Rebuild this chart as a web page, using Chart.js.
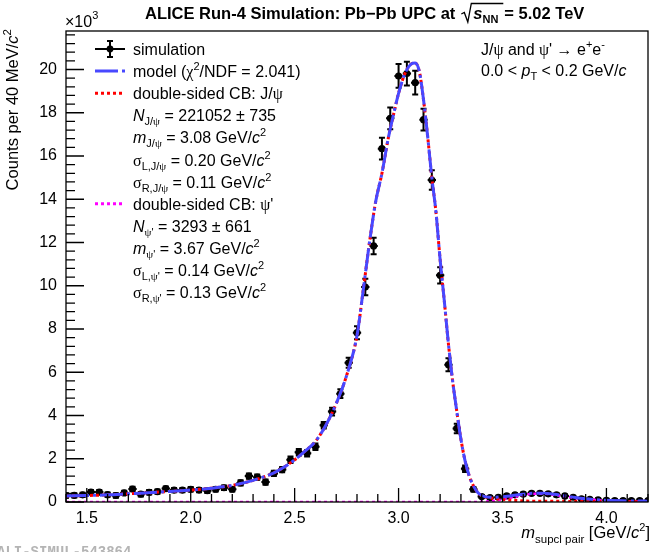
<!DOCTYPE html>
<html>
<head>
<meta charset="utf-8">
<script src="https://cdn.jsdelivr.net/npm/chart.js@4.4.1/dist/chart.umd.min.js"></script>
<style>
  html, body { margin: 0; padding: 0; background: #fff; }
  canvas { display: block; }
</style>
</head>
<body>
<canvas id="chart" width="652" height="552"></canvas>
<script>
// ---- datos: cuentas en unidades de 10^3 por bin de 40 MeV ----
const binCenters = [1.40, 1.44, 1.48, 1.52, 1.56, 1.60, 1.64, 1.68, 1.72, 1.76, 1.80, 1.84, 1.88, 1.92, 1.96,
  2.00, 2.04, 2.08, 2.12, 2.16, 2.20, 2.24, 2.28, 2.32, 2.36, 2.40, 2.44, 2.48, 2.52, 2.56, 2.60, 2.64,
  2.68, 2.72, 2.76, 2.80, 2.84, 2.88, 2.92, 2.96, 3.00, 3.04, 3.08, 3.12, 3.16, 3.20, 3.24, 3.28, 3.32,
  3.36, 3.40, 3.44, 3.48, 3.52, 3.56, 3.60, 3.64, 3.68, 3.72, 3.76, 3.80, 3.84, 3.88, 3.92, 3.96, 4.00,
  4.04, 4.08, 4.12, 4.16, 4.20];
const counts = [0.30, 0.31, 0.33, 0.46, 0.46, 0.34, 0.30, 0.42, 0.60, 0.36, 0.45, 0.48, 0.62, 0.55, 0.55,
  0.59, 0.55, 0.52, 0.59, 0.66, 0.59, 0.88, 1.20, 1.15, 0.92, 1.32, 1.50, 1.95, 2.30, 2.25, 2.56, 3.55,
  4.18, 5.01, 6.44, 7.83, 9.94, 11.84, 16.34, 17.74, 19.70, 19.81, 19.39, 17.68, 14.89, 10.48, 6.35, 3.40, 1.54,
  0.59, 0.25, 0.20, 0.22, 0.28, 0.33, 0.37, 0.40, 0.40, 0.38, 0.33, 0.28, 0.22, 0.15, 0.12, 0.10, 0.08,
  0.07, 0.07, 0.06, 0.06, 0.06];
const countErrors = [0.10, 0.10, 0.10, 0.10, 0.10, 0.10, 0.10, 0.10, 0.10, 0.10, 0.10, 0.10, 0.10, 0.10, 0.10,
  0.10, 0.10, 0.10, 0.10, 0.10, 0.10, 0.12, 0.12, 0.12, 0.12, 0.12, 0.12, 0.15, 0.15, 0.15, 0.15, 0.15,
  0.18, 0.20, 0.23, 0.30, 0.38, 0.38, 0.50, 0.50, 0.55, 0.55, 0.55, 0.50, 0.45, 0.38, 0.30, 0.22, 0.15,
  0.10, 0.07, 0.07, 0.07, 0.07, 0.07, 0.07, 0.07, 0.07, 0.07, 0.07, 0.07, 0.07, 0.07, 0.07, 0.07, 0.07,
  0.07, 0.07, 0.07, 0.07, 0.07];
const binHalfWidth = 0.02;

// curvas del ajuste
const curveMass = [1.40, 1.50, 1.60, 1.70, 1.80, 1.90, 2.00, 2.10, 2.20, 2.30, 2.40, 2.45, 2.50, 2.55, 2.60,
  2.65, 2.70, 2.75, 2.80, 2.83, 2.86, 2.89, 2.92, 2.95, 2.98, 3.00, 3.03, 3.06, 3.08, 3.10, 3.12, 3.14,
  3.16, 3.18, 3.20, 3.22, 3.24, 3.26, 3.28, 3.30, 3.32, 3.34, 3.36, 3.38, 3.40, 3.44, 3.50, 3.55, 3.60,
  3.65, 3.70, 3.75, 3.80, 3.85, 3.90, 3.95, 4.00, 4.10, 4.20];
const modelCurve = [0.28, 0.30, 0.33, 0.38, 0.43, 0.49, 0.55, 0.64, 0.77, 1.00, 1.35, 1.62, 1.95, 2.35, 2.80,
  3.55, 4.55, 5.85, 7.70, 9.80, 12.0, 13.9, 15.2, 16.8, 18.1, 18.9, 19.8, 20.25, 20.3, 19.9, 18.6, 16.9,
  15.0, 13.4, 11.2, 9.3, 7.3, 5.6, 4.2, 2.9, 1.9, 1.2, 0.75, 0.45, 0.30, 0.22, 0.24, 0.30, 0.36,
  0.41, 0.41, 0.36, 0.29, 0.21, 0.15, 0.11, 0.08, 0.05, 0.04];
const jpsiCurve = [0.28, 0.30, 0.33, 0.38, 0.43, 0.49, 0.55, 0.64, 0.77, 1.00, 1.35, 1.62, 1.95, 2.35, 2.80,
  3.55, 4.55, 5.85, 7.70, 9.80, 12.0, 13.9, 15.2, 16.8, 18.1, 18.9, 19.8, 20.25, 20.3, 19.9, 18.6, 16.9,
  15.0, 13.4, 11.2, 9.3, 7.3, 5.6, 4.2, 2.9, 1.9, 1.2, 0.75, 0.45, 0.29, 0.19, 0.12, 0.08, 0.05,
  0.03, 0.03, 0.03, 0.03, 0.02, 0.02, 0.02, 0.02, 0.01, 0.01];
const psi2sCurve = [0, 0, 0, 0, 0, 0, 0, 0, 0, 0, 0, 0, 0, 0, 0,
  0, 0, 0, 0, 0, 0, 0, 0, 0, 0, 0, 0, 0, 0, 0, 0, 0,
  0, 0, 0, 0, 0, 0, 0, 0, 0, 0, 0, 0, 0.01, 0.03, 0.12, 0.22, 0.32,
  0.38, 0.38, 0.33, 0.26, 0.19, 0.13, 0.09, 0.06, 0.03, 0.02];

const xTicks = [1.5, 2.0, 2.5, 3.0, 3.5, 4.0];
const yTicks = [0, 2, 4, 6, 8, 10, 12, 14, 16, 18, 20];

const SANS = '"Liberation Sans", Arial, Helvetica, sans-serif';
const SERIF = '"Liberation Serif", "Times New Roman", serif';
const BLUE = '#4848ff';

// ---- texto con sub/superíndices ----
const sub = (t, o = {}) => Object.assign({ t, size: 11, dy: 4 }, o);
const sup = (t, o = {}) => Object.assign({ t, size: 11, dy: -7 }, o);
const gr = (t, o = {}) => Object.assign({ t, g: true }, o);
const it = (t, o = {}) => Object.assign({ t, i: true }, o);

function fontOf(p, base) {
  return (p.i ? 'italic ' : '') + (p.b ? 'bold ' : '') + (p.size || base) + 'px ' + (p.g ? SERIF : SANS);
}
function measureRich(ctx, parts, base) {
  let w = 0;
  parts.forEach(p => { ctx.font = fontOf(p, base); w += ctx.measureText(p.t).width; });
  return w;
}
function drawRich(ctx, x, y, parts, base) {
  parts.forEach(p => {
    ctx.font = fontOf(p, base);
    ctx.fillText(p.t, x, y + (p.dy || 0));
    x += ctx.measureText(p.t).width;
  });
  return x;
}

const legendRows = [
  ['simulation'],
  ['model (', gr('χ'), sup('2'), '/NDF = 2.041)'],
  ['double-sided CB: J/', gr('ψ')],
  [it('N'), sub('J/'), sub('ψ', { g: true }), ' = 221052 ± 735'],
  [it('m'), sub('J/'), sub('ψ', { g: true }), ' = 3.08 GeV/', it('c'), sup('2')],
  [gr('σ'), sub('L,J/'), sub('ψ', { g: true }), ' = 0.20 GeV/', it('c'), sup('2')],
  [gr('σ'), sub('R,J/'), sub('ψ', { g: true }), ' = 0.11 GeV/', it('c'), sup('2')],
  ['double-sided CB: ', gr('ψ'), "'"],
  [it('N'), sub('ψ', { g: true }), sub("'"), ' = 3293 ± 661'],
  [it('m'), sub('ψ', { g: true }), sub("'"), ' = 3.67 GeV/', it('c'), sup('2')],
  [gr('σ'), sub('L,'), sub('ψ', { g: true }), sub("'"), ' = 0.14 GeV/', it('c'), sup('2')],
  [gr('σ'), sub('R,'), sub('ψ', { g: true }), sub("'"), ' = 0.13 GeV/', it('c'), sup('2')]
].map(r => r.map(p => typeof p === 'string' ? { t: p } : p));

// barras de error (debajo de marcadores y curvas)
const errorBars = {
  id: 'errorBars',
  beforeDatasetsDraw(chart) {
    const { ctx, chartArea: a, scales: { x, y } } = chart;
    ctx.save();
    ctx.beginPath();
    ctx.rect(a.left, a.top, a.right - a.left, a.bottom - a.top);
    ctx.clip();
    ctx.strokeStyle = '#000';
    ctx.lineWidth = 2;
    binCenters.forEach((m, i) => {
      const px = x.getPixelForValue(m);
      const py = y.getPixelForValue(counts[i]);
      const x0 = x.getPixelForValue(m - binHalfWidth);
      const x1 = x.getPixelForValue(m + binHalfWidth);
      const y0 = y.getPixelForValue(counts[i] - countErrors[i]);
      const y1 = y.getPixelForValue(counts[i] + countErrors[i]);
      ctx.beginPath();
      ctx.moveTo(x0, py); ctx.lineTo(x1, py);
      ctx.moveTo(px, y0); ctx.lineTo(px, y1);
      ctx.moveTo(px - 3, y0); ctx.lineTo(px + 3, y0);
      ctx.moveTo(px - 3, y1); ctx.lineTo(px + 3, y1);
      ctx.stroke();
    });
    ctx.restore();
  }
};

// marco, ticks hacia dentro (estilo ROOT) y textos
const decorations = {
  id: 'decorations',
  afterDraw(chart) {
    const { ctx, chartArea: a, scales: { x, y } } = chart;
    ctx.save();
    ctx.strokeStyle = '#000';
    ctx.lineWidth = 1.3;
    ctx.strokeRect(a.left, a.top, a.right - a.left, a.bottom - a.top);

    ctx.beginPath();
    for (let k = 14; k <= 42; k++) {
      const px = x.getPixelForValue(k / 10);
      const len = k % 5 === 0 ? 14 : 8;
      ctx.moveTo(px, a.bottom); ctx.lineTo(px, a.bottom - len);
    }
    for (let k = 0; k <= 54; k++) {
      const py = y.getPixelForValue(k * 0.4);
      const len = k % 5 === 0 ? 18 : 9;
      ctx.moveTo(a.left, py); ctx.lineTo(a.left + len, py);
    }
    ctx.stroke();

    ctx.fillStyle = '#000';
    ctx.textBaseline = 'alphabetic';
    ctx.textAlign = 'left';

    // título
    const titleLeft = [{ t: 'ALICE Run-4 Simulation: Pb\u2212Pb UPC at', b: true }];
    let tx = drawRich(ctx, 145, 19, titleLeft, 16.5);
    const r0 = tx + 6;
    ctx.lineWidth = 1.3;
    ctx.beginPath();
    ctx.moveTo(r0, 14); ctx.lineTo(r0 + 3, 12.5); ctx.lineTo(r0 + 6.5, 22);
    ctx.lineTo(r0 + 10, 3.5); ctx.lineTo(r0 + 42, 3.5);
    ctx.stroke();
    tx = drawRich(ctx, r0 + 12, 19, [{ t: 's', b: true, i: true }, { t: 'NN', b: true, size: 11, dy: 4 }], 16.5);
    drawRich(ctx, tx + 6, 19, [{ t: '= 5.02 TeV', b: true }], 16.5);

    // ×10^3
    drawRich(ctx, 65, 27, [{ t: '×10' }, sup('3', { size: 11, dy: -8 })], 16);

    // leyenda
    const lx0 = 95, lx1 = 125, tx0 = 133;
    legendRows.forEach((row, i) => {
      drawRich(ctx, tx0, 55 + 22.1 * i, row, 16);
    });
    const sy = i => 49 + 22.1 * i;
    // símbolo: simulación
    ctx.setLineDash([]);
    ctx.lineWidth = 2;
    ctx.beginPath();
    ctx.moveTo(lx0, sy(0)); ctx.lineTo(lx1, sy(0));
    ctx.moveTo(110, sy(0) - 8); ctx.lineTo(110, sy(0) + 8);
    ctx.moveTo(107, sy(0) - 8); ctx.lineTo(113, sy(0) - 8);
    ctx.moveTo(107, sy(0) + 8); ctx.lineTo(113, sy(0) + 8);
    ctx.stroke();
    ctx.beginPath();
    ctx.arc(110, sy(0), 3.4, 0, Math.PI * 2);
    ctx.fill();
    // símbolo: modelo
    ctx.lineWidth = 3;
    ctx.strokeStyle = BLUE;
    ctx.setLineDash([23, 4, 3, 4]);
    ctx.beginPath(); ctx.moveTo(lx0, sy(1)); ctx.lineTo(lx1, sy(1)); ctx.stroke();
    // símbolos: CB
    ctx.setLineDash([3, 3]);
    ctx.strokeStyle = '#ff0000';
    ctx.beginPath(); ctx.moveTo(lx0, sy(2)); ctx.lineTo(lx1, sy(2)); ctx.stroke();
    ctx.strokeStyle = '#ff00ff';
    ctx.beginPath(); ctx.moveTo(lx0, sy(7)); ctx.lineTo(lx1, sy(7)); ctx.stroke();
    ctx.setLineDash([]);

    // texto superior derecho
    ctx.fillStyle = '#000';
    drawRich(ctx, 481, 55, [{ t: 'J/' }, gr('ψ'), { t: ' and ' }, gr('ψ'), { t: "' \u2192 e" }, sup('+'), { t: 'e' }, sup('-')], 16);
    drawRich(ctx, 481, 76, [{ t: '0.0 < ' }, it('p'), sub('T'), { t: ' < 0.2 GeV/' }, it('c')], 16);

    // título eje x
    const xt = [it('m'), { t: 'supcl pair', size: 11.5, dy: 5 }, { t: ' [GeV/' }, it('c'), sup('2'), { t: ']' }];
    drawRich(ctx, 650 - measureRich(ctx, xt, 16.5), 538, xt, 16.5);

    // título eje y
    const yt = [{ t: 'Counts per 40 MeV/' }, it('c'), sup('2', { size: 11.5 })];
    ctx.save();
    ctx.translate(18, 29);
    ctx.rotate(-Math.PI / 2);
    drawRich(ctx, -measureRich(ctx, yt, 16.5), 0, yt, 16.5);
    ctx.restore();

    // marca de agua
    ctx.fillStyle = '#b4b4b4';
    ctx.textBaseline = 'top';
    ctx.font = 'bold 14px "Liberation Mono", "DejaVu Sans Mono", monospace';
    ctx.fillText('ALI-SIMUL-543864', -3, 545);
    ctx.restore();
  }
};

const pts = (xs, ys) => xs.map((v, i) => ({ x: v, y: ys[i] }));

new Chart(document.getElementById('chart'), {
  type: 'scatter',
  data: {
    datasets: [
      {
        label: 'simulation',
        data: pts(binCenters, counts),
        pointRadius: 3.6,
        pointBackgroundColor: '#000',
        pointBorderWidth: 0,
        showLine: false,
        order: 4
      },
      {
        label: 'psi2s',
        data: pts(curveMass, psi2sCurve),
        showLine: true,
        borderColor: '#ff00ff',
        borderWidth: 2.5,
        borderDash: [3, 3],
        pointRadius: 0,
        cubicInterpolationMode: 'monotone',
        order: 3
      },
      {
        label: 'jpsi',
        data: pts(curveMass, jpsiCurve),
        showLine: true,
        borderColor: '#ff0000',
        borderWidth: 3,
        borderDash: [3, 3],
        pointRadius: 0,
        cubicInterpolationMode: 'monotone',
        order: 2
      },
      {
        label: 'model',
        data: pts(curveMass, modelCurve),
        showLine: true,
        borderColor: BLUE,
        borderWidth: 3,
        borderDash: [23, 4, 3, 4],
        pointRadius: 0,
        cubicInterpolationMode: 'monotone',
        order: 1
      }
    ]
  },
  options: {
    responsive: false,
    animation: false,
    events: [],
    layout: { padding: { top: 31, right: 1, left: 0, bottom: 0 } },
    plugins: { legend: { display: false }, tooltip: { enabled: false } },
    scales: {
      x: {
        type: 'linear',
        min: 1.4,
        max: 4.2,
        grid: { display: false, drawTicks: false },
        border: { display: false },
        afterBuildTicks: s => { s.ticks = xTicks.map(v => ({ value: v })); },
        afterFit: s => { s.height = 50; },
        ticks: {
          callback: v => v.toFixed(1),
          color: '#000',
          font: { family: SANS, size: 16 },
          padding: 7,
          maxRotation: 0,
          autoSkip: false
        }
      },
      y: {
        min: 0,
        max: 21.78,
        grid: { display: false, drawTicks: false },
        border: { display: false },
        afterBuildTicks: s => { s.ticks = yTicks.map(v => ({ value: v })); },
        afterFit: s => { s.width = 66; },
        ticks: {
          callback: v => String(v),
          color: '#000',
          font: { family: SANS, size: 16 },
          padding: 9
        }
      }
    }
  },
  plugins: [errorBars, decorations]
});
</script>
</body>
</html>
